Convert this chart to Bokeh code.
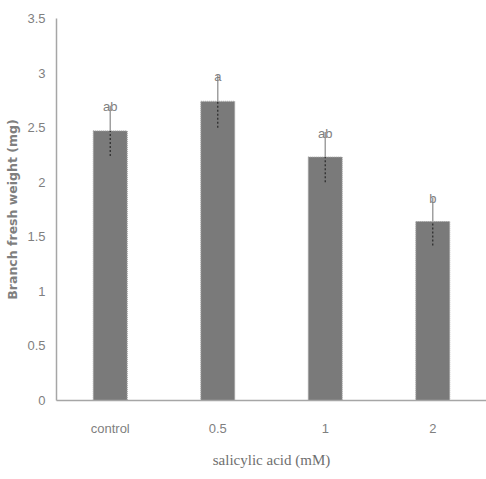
from bokeh.plotting import figure
from bokeh.models import ColumnDataSource, FactorRange, Range1d, FixedTicker
from bokeh.core.properties import value
from bokeh.embed import file_html
from bokeh.resources import INLINE

# Branch fresh weight under salicylic acid treatments
treatments = ["control", "0.5", "1", "2"]
weights = [2.47, 2.74, 2.23, 1.64]
errors = [0.23, 0.24, 0.23, 0.22]
letters = ["ab", "a", "ab", "b"]
y_ticks = [0, 0.5, 1, 1.5, 2, 2.5, 3, 3.5]

upper = [w + e for w, e in zip(weights, errors)]
lower = [w - e for w, e in zip(weights, errors)]

src = ColumnDataSource(dict(x=treatments, top=weights, up=upper, lo=lower, lab=letters))

tick_font = "Liberation Sans"
grey_txt = "#7f7f7f"
axis_grey = "#a6a6a6"

p = figure(
    x_range=FactorRange(*treatments, range_padding=0),
    y_range=Range1d(0, 3.5),
    width=486, height=479,
    min_border_left=56, min_border_right=0, min_border_top=18, min_border_bottom=79,
    output_backend="svg", toolbar_location=None,
)
p.outline_line_color = None
p.xgrid.grid_line_color = None
p.ygrid.grid_line_color = None
p.background_fill_color = "white"
p.border_fill_color = "white"

# bars
p.vbar(x="x", top="top", width=0.315, source=src,
       fill_color="#7a7a7a", line_color="#a0a0a0", line_width=1.2, line_dash="1 1")

# upper whisker (solid) and lower whisker (dotted, inside the bar)
p.segment(x0="x", y0="top", x1="x", y1="up", source=src, line_color="#a0a0a0", line_width=1.5)
p.segment(x0="x", y0="lo", x1="x", y1="top", source=src, line_color="#2e2e2e", line_width=1.3, line_dash="2 2")

# significance letters
p.text(x="x", y="up", text="lab", source=src, text_align="center", text_baseline="middle",
       y_offset=1, text_font=value(tick_font), text_font_size="13px", text_color=grey_txt)

# y axis
p.yaxis.ticker = FixedTicker(ticks=y_ticks)
p.yaxis.major_tick_line_color = None
p.yaxis.minor_tick_line_color = None
p.yaxis.major_tick_out = 0
p.yaxis.major_tick_in = 0
p.yaxis.minor_tick_out = 0
p.yaxis.axis_line_color = axis_grey
p.yaxis.axis_line_width = 1.5
p.yaxis.major_label_text_font = tick_font
p.yaxis.major_label_text_font_size = "13px"
p.yaxis.major_label_text_color = grey_txt
p.yaxis.major_label_standoff = 11
p.yaxis.axis_label = "Branch fresh weight (mg)"
p.yaxis.axis_label_text_font = "DejaVu Sans"
p.yaxis.axis_label_text_font_style = "bold"
p.yaxis.axis_label_text_font_size = "12.5px"
p.yaxis.axis_label_text_color = grey_txt
p.yaxis.axis_label_standoff = 4

# x axis
p.xaxis.major_tick_line_color = None
p.xaxis.minor_tick_line_color = None
p.xaxis.major_tick_out = 0
p.xaxis.major_tick_in = 0
p.xaxis.axis_line_color = axis_grey
p.xaxis.axis_line_width = 1.5
p.xaxis.major_label_text_font = tick_font
p.xaxis.major_label_text_font_size = "13px"
p.xaxis.major_label_text_color = grey_txt
p.xaxis.major_label_standoff = 20
p.xaxis.axis_label = "salicylic acid (mM)"
p.xaxis.axis_label_text_font = "Liberation Serif"
p.xaxis.axis_label_text_font_style = "normal"
p.xaxis.axis_label_text_font_size = "15px"
p.xaxis.axis_label_text_color = "#6f6f6f"
p.xaxis.axis_label_standoff = 13

open("out.html", "w").write(file_html(p, INLINE))
